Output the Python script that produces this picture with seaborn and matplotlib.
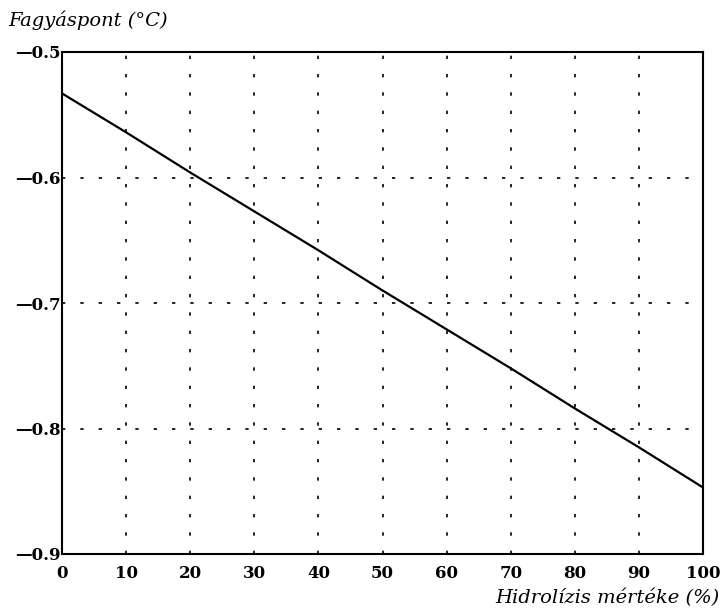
import matplotlib
matplotlib.use("Agg")
import matplotlib.pyplot as plt
import seaborn as sns
import pandas as pd
from matplotlib.ticker import MultipleLocator, FuncFormatter

hydrolysis = [0, 10, 20, 30, 40, 50, 60, 70, 80, 90, 100]
freezing_point = [-0.533, -0.564, -0.596, -0.627, -0.658, -0.690, -0.721, -0.752, -0.784, -0.815, -0.847]
x_ticks = [0, 10, 20, 30, 40, 50, 60, 70, 80, 90, 100]
y_ticks = [-0.9, -0.8, -0.7, -0.6, -0.5]

df = pd.DataFrame({"x": hydrolysis, "y": freezing_point})

sns.set_style("white")
plt.rcParams['font.family'] = ['DejaVu Serif', 'DejaVu Sans']

fig = plt.figure(figsize=(7.26, 6.12), dpi=100)
ax = fig.add_axes([62/726, 1 - 554/612, (703-62)/726, (554-52)/612])

sns.lineplot(data=df, x="x", y="y", ax=ax, color="black", linewidth=1.6)

ax.set_xlim(0, 100)
ax.set_ylim(-0.9, -0.5)
ax.set_xticks(x_ticks)
ax.set_yticks(y_ticks)
ax.xaxis.set_minor_locator(MultipleLocator(5))
ax.yaxis.set_minor_locator(MultipleLocator(0.05))

ax.xaxis.set_major_formatter(FuncFormatter(lambda v, p: f"{int(round(v))}"))
ax.yaxis.set_major_formatter(FuncFormatter(lambda v, p: "\u2014" + f"{abs(v):.1f}"))

ax.tick_params(axis="both", which="major", direction="in", length=7, width=1.2,
               labelsize=12, colors="black")
ax.tick_params(axis="both", which="minor", direction="in", length=4, width=1.0)
ax.tick_params(axis="x", pad=8)
ax.tick_params(axis="y", pad=1)
for lab in ax.get_xticklabels() + ax.get_yticklabels():
    lab.set_fontweight("bold")

for sp in ax.spines.values():
    sp.set_visible(True)
    sp.set_color("black")
    sp.set_linewidth(1.5)

ax.grid(True, which="major", color="black", linestyle=(0, (2, 9)), linewidth=1.2)

ax.set_xlabel("")
ax.set_ylabel("")
fig.text(8/726, 1 - 20/612, "Fagyáspont (°C)", fontsize=14, fontstyle="italic",
         ha="left", va="center", family="DejaVu Serif", color="black")
fig.text(720/726, 1 - 598/612, "Hidrolízis mértéke (%)", fontsize=14, fontstyle="italic",
         ha="right", va="center", family="DejaVu Serif", color="black")

fig.savefig("out.png", dpi=100)
